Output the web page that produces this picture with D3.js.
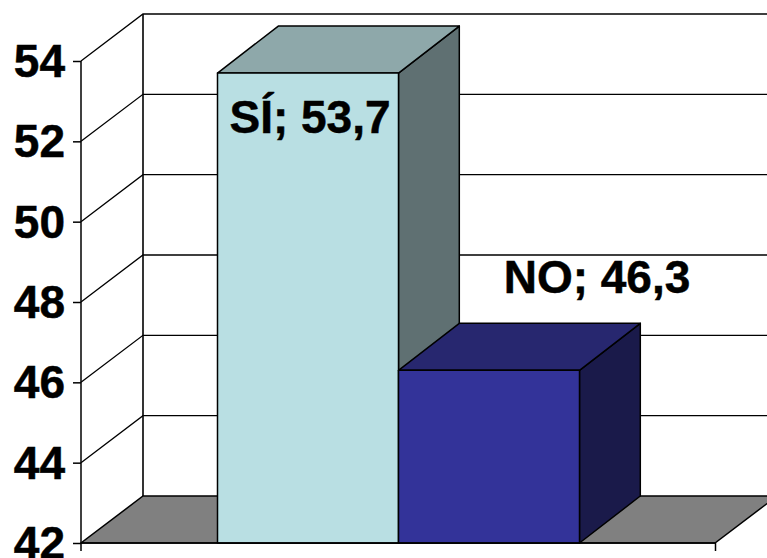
<!DOCTYPE html>
<html><head><meta charset="utf-8">
<script src="https://cdnjs.cloudflare.com/ajax/libs/d3/7.8.5/d3.min.js"></script>
<style>html,body{margin:0;padding:0;background:#fff;overflow:hidden}svg{display:block}
text{font-family:"Liberation Sans",Arial,sans-serif;font-weight:bold;fill:#000;stroke:#000;stroke-width:.5px}</style>
</head><body><svg id="c" width="767" height="558"></svg>
<script>
const categories = ["SÍ", "NO"];
const values = [53.7, 46.3];
const valueLabels = ["SÍ; 53,7", "NO; 46,3"];
const tickValues = [42, 44, 46, 48, 50, 52, 54];
const faceColors = ["#b9dfe3", "#333399"];
const topColors = ["#8ea8aa", "#27276f"];
const sideColors = ["#5f7072", "#1a1a4a"];

const W = 767, H = 558;
const WALL_DX = 62, DX = 60.8, DY = -47;
const svg = d3.select("#c");
const y = d3.scaleLinear().domain([42, 54]).range([543, 61]);
const x = d3.scaleBand().domain(categories).range([217.5, 579.5]);
const left = 81, right = 715;
const poly = pts => pts.map(p => p.join(",")).join(" ");

// floor
svg.append("polygon")
  .attr("points", poly([[left, y(42)], [right, y(42)], [right + WALL_DX, y(42) + DY], [left + WALL_DX, y(42) + DY]]))
  .attr("fill", "#808080").attr("stroke", "#000").attr("stroke-width", 1.5);

// gridlines: side wall and back wall
const inner = tickValues.slice(1);
svg.append("g").selectAll("path").data(inner).join("path")
  .attr("fill", "none").attr("stroke", "#000").attr("stroke-width", 1.3)
  .attr("d", d => `M${left},${y(d)}L${left + WALL_DX},${y(d) + DY}L${W + 20},${y(d) + DY}`);

// back wall edge
svg.append("line").attr("x1", left + WALL_DX).attr("x2", left + WALL_DX)
  .attr("y1", y(42) + DY).attr("y2", y(54) + DY)
  .attr("stroke", "#000").attr("stroke-width", 1.6);

// bars
const bars = svg.append("g").selectAll("g").data(categories).join("g");
const x0 = c => x(c), x1 = c => x(c) + x.bandwidth();
const v = c => values[categories.indexOf(c)];
const i = c => categories.indexOf(c);
bars.append("polygon").attr("fill", c => sideColors[i(c)])
  .attr("points", c => poly([[x1(c), y(v(c))], [x1(c) + DX, y(v(c)) + DY], [x1(c) + DX, y(42) + DY], [x1(c), y(42)]]));
bars.append("polygon").attr("fill", c => topColors[i(c)])
  .attr("points", c => poly([[x0(c), y(v(c))], [x0(c) + DX, y(v(c)) + DY], [x1(c) + DX, y(v(c)) + DY], [x1(c), y(v(c))]]));
bars.append("rect").attr("fill", c => faceColors[i(c)])
  .attr("x", c => x0(c)).attr("y", c => y(v(c)))
  .attr("width", x.bandwidth()).attr("height", c => y(42) - y(v(c)));
bars.selectAll("polygon,rect").attr("stroke", "#000").attr("stroke-width", 1.5).attr("stroke-linejoin", "round");

// y axis
const gy = svg.append("g").attr("transform", `translate(${left},0)`)
  .call(d3.axisLeft(y).tickValues(tickValues).tickSize(8).tickPadding(8).tickFormat(d3.format("d")));
gy.selectAll("text").attr("font-size", 46).attr("font-family", '"Liberation Sans"').attr("font-weight", "bold").attr("fill", "#000").attr("dy", "0.34em");
gy.selectAll("line,path").attr("stroke", "#000").attr("stroke-width", 1.5);
gy.select("path").attr("d", `M0,${y(54)}V${y(42) + 8}`);

// x axis
const xAxisScale = d3.scaleLinear().domain([0, 1]).range([left, right]);
const gx = svg.append("g").attr("transform", `translate(0,${y(42)})`)
  .call(d3.axisBottom(xAxisScale).tickValues([1]).tickSize(8).tickFormat(""));
gx.selectAll("line,path").attr("stroke", "#000").attr("stroke-width", 1.5);
gx.select("path").attr("d", `M${left},0H${right}`);

// value labels
const labelCenters = [310, 597];
const labelBaselines = [133, 292.5];
svg.append("g").selectAll("text").data(valueLabels).join("text")
  .attr("x", (d, k) => labelCenters[k]).attr("y", (d, k) => labelBaselines[k])
  .attr("text-anchor", "middle").attr("font-size", 46).text(d => d);
</script></body></html>
